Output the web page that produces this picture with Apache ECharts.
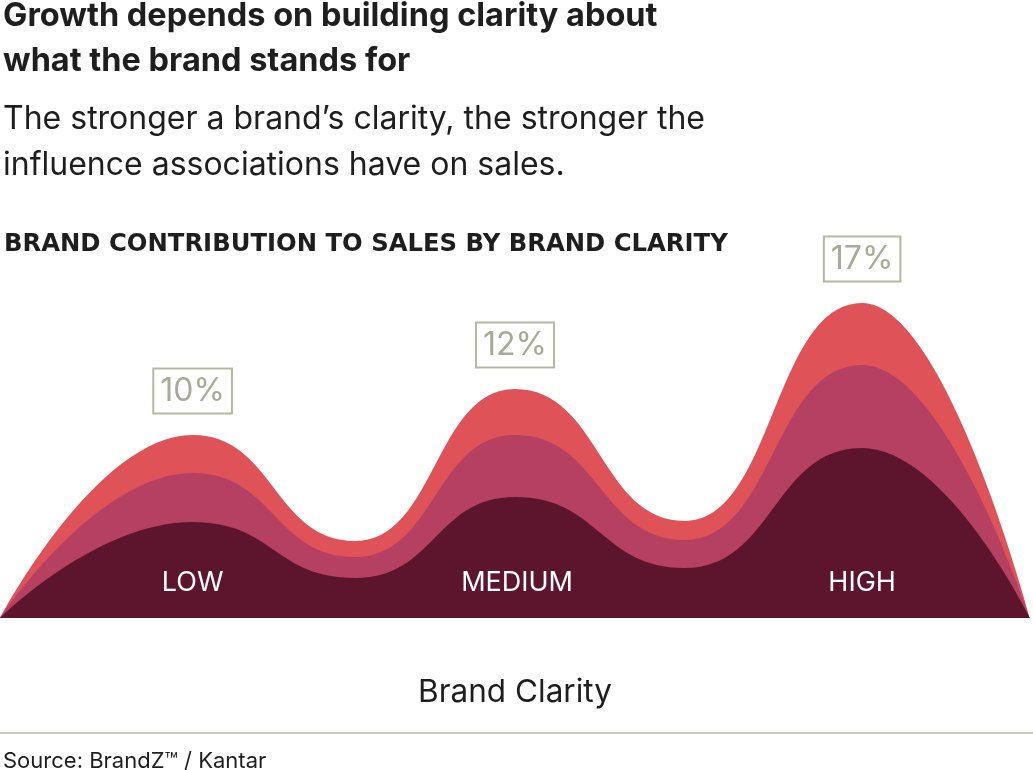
<!DOCTYPE html>
<html>
<head>
<meta charset="utf-8">
<script src="https://cdn.jsdelivr.net/npm/echarts@6/dist/echarts.min.js"></script>
<style>html,body{margin:0;padding:0;background:#fff}#c{width:1033px;height:770px}</style>
</head>
<body>
<div id="c"></div>
<script>
// Brand clarity position along the x axis (0-100) for each sampled point
var xPos = [0, 18.7, 34.5, 50, 66.5, 83.7, 100];
// upper edge of each band (cumulative height), bottom band to top band
var bandDark = [0, 9.6, 4.0, 12.1, 5.0, 17.0, 0];
var bandMid = [0, 14.5, 6.1, 18.3, 7.8, 25.3, 0];
var bandRed = [0, 18.3, 7.7, 22.9, 9.7, 31.5, 0];
// percentage labels at the peaks
var pctLabels = ['', '10%', '', '12%', '', '17%', ''];
// clarity level names and their positions
var clarityLevels = ['LOW', 'MEDIUM', 'HIGH'];
var clarityX = [18.7, 50.2, 83.7];

var FONT = 'Inter';
function pairs(arr) { return arr.map(function (v, i) { return [xPos[i], v]; }); }

var pctMarks = [];
pctLabels.forEach(function (t, i) {
  if (t) pctMarks.push({ name: t, coord: [xPos[i], bandRed[i]] });
});

var base = { type: 'line', smooth: 0.5, smoothMonotone: 'x', symbol: 'none', showSymbol: false, lineStyle: { width: 0 } };

var chart = echarts.init(document.getElementById('c'));
chart.setOption({
  animation: false,
  title: [
    { text: 'Growth depends on building clarity about\nwhat the brand stands for', left: -2, top: -11,
      textStyle: { fontFamily: FONT, fontWeight: 'bold', fontSize: 32.5, lineHeight: 45, color: '#1e1e1e' } },
    { text: 'The stronger a brand\u2019s clarity, the stronger the\ninfluence associations have on sales.', left: -2, top: 91,
      textStyle: { fontFamily: FONT, fontWeight: 'normal', fontSize: 32, lineHeight: 46, color: '#1e1e1e' } },
    { text: 'BRAND CONTRIBUTION TO SALES BY BRAND CLARITY', left: -1, top: 228,
      textStyle: { fontFamily: 'DejaVu Sans', fontWeight: 'bold', fontSize: 24.3, color: '#1e1e1e' } },
    { text: 'Source: BrandZ\u2122 / Kantar', left: -2, top: 745,
      textStyle: { fontFamily: FONT, fontWeight: 'normal', fontSize: 22, color: '#1e1e1e' } }
  ],
  grid: { left: 0, right: 3, top: 218, bottom: 152 },
  xAxis: {
    type: 'value', min: 0, max: 100,
    name: 'Brand Clarity', nameLocation: 'middle', nameGap: 59,
    nameTextStyle: { fontFamily: FONT, fontSize: 31.5, color: '#1e1e1e' },
    axisLine: { show: false }, axisTick: { show: false }, axisLabel: { show: false }, splitLine: { show: false }
  },
  yAxis: { type: 'value', min: 0, max: 40, show: false },
  graphic: [
    { type: 'rect', left: 0, top: 732, shape: { width: 1033, height: 2 }, style: { fill: '#c9cabb' } }
  ],
  series: [
    Object.assign({}, base, {
      areaStyle: { color: '#de5258', opacity: 1 },
      data: pairs(bandRed),
      markPoint: {
        symbol: 'rect', symbolSize: 1, itemStyle: { color: 'rgba(0,0,0,0)' },
        label: {
          show: true, position: 'top', distance: 21, formatter: '{b}',
          fontFamily: FONT, fontSize: 32, color: '#a8aa97',
          borderColor: '#b5b7a4', borderWidth: 2, padding: [7, 7, 6, 7]
        },
        data: pctMarks
      }
    }),
    Object.assign({}, base, {
      areaStyle: { color: '#b64062', opacity: 1 },
      data: pairs(bandMid)
    }),
    Object.assign({}, base, {
      areaStyle: { color: '#5d152e', opacity: 1 },
      data: pairs(bandDark),
      markPoint: {
        symbol: 'rect', symbolSize: 1, itemStyle: { color: 'rgba(0,0,0,0)' },
        label: { show: true, position: 'inside', color: '#ffffff', fontFamily: FONT, fontSize: 27, formatter: '{b}' },
        data: clarityLevels.map(function (n, i) { return { name: n, coord: [clarityX[i], 3.5] }; })
      }
    })
  ]
});
</script>
</body>
</html>
